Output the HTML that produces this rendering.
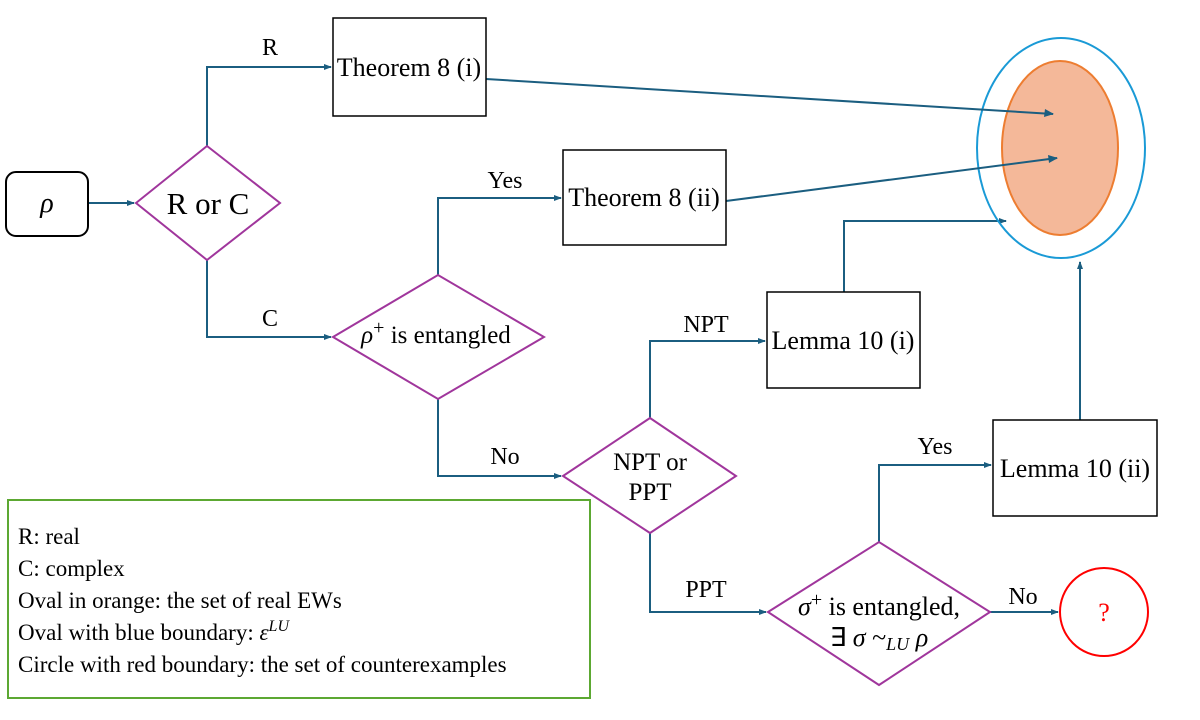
<!DOCTYPE html>
<html><head><meta charset="utf-8"><style>body{margin:0;background:#fff}svg{display:block}</style></head><body>
<svg width="1200" height="720" viewBox="0 0 1200 720" xmlns="http://www.w3.org/2000/svg" font-family="'Liberation Serif', serif">
<defs><marker id="a" markerWidth="8" markerHeight="8" refX="7" refY="4" orient="auto" markerUnits="userSpaceOnUse"><path d="M0,1 L8,4 L0,7 Z" fill="#1b5e80"/></marker></defs>
<g fill="none" stroke="#1b5e80" stroke-width="2">
<path d="M88,203 H134" marker-end="url(#a)"/>
<path d="M207,146 V67 H331" marker-end="url(#a)"/>
<path d="M207,260 V337 H331" marker-end="url(#a)"/>
<path d="M438,275 V198 H561" marker-end="url(#a)"/>
<path d="M438,399 V476 H561" marker-end="url(#a)"/>
<path d="M650,418 V341 H765" marker-end="url(#a)"/>
<path d="M650,533 V612 H766" marker-end="url(#a)"/>
<path d="M879,542 V465 H991" marker-end="url(#a)"/>
<path d="M990,612 H1058" marker-end="url(#a)"/>
<path d="M844,292 V221 H1006" marker-end="url(#a)"/>
<path d="M1080,420 V262" marker-end="url(#a)"/>
</g>
<ellipse cx="1061" cy="148" rx="84" ry="110" fill="none" stroke="#1a9ad6" stroke-width="2"/>
<ellipse cx="1060" cy="148" rx="58" ry="87" fill="#f4b899" stroke="#ed7d31" stroke-width="2"/>
<path d="M486,79 L1053,114 M726,201 L1057,158" fill="none" stroke="#1b5e80" stroke-width="2"/>
<path d="M1045,109 L1054,114 L1044,117 Z M1048,155 L1058,158 L1049,163 Z" fill="#1b5e80"/>
<rect x="6" y="172" width="82" height="64" rx="10" fill="#fff" stroke="#000" stroke-width="2"/>
<g fill="#fff" stroke="#000" stroke-width="1.5">
<rect x="333" y="18" width="153" height="98"/>
<rect x="563" y="150" width="163" height="95"/>
<rect x="767" y="292" width="153" height="96"/>
<rect x="993" y="420" width="164" height="96"/>
</g>
<g fill="#fff" stroke="#a0369c" stroke-width="2">
<path d="M136,203 L207,146 L280,203 L207,260 Z"/>
<path d="M333,337 L438,275 L544,337 L438,399 Z"/>
<path d="M563,476 L650,418 L736,476 L650,533 Z"/>
<path d="M768,612 L879,542 L990,612 L879,685 Z"/>
</g>
<circle cx="1104" cy="612" r="44" fill="#fff" stroke="#f00" stroke-width="2"/>
<rect x="8" y="500" width="582" height="198" fill="#fff" stroke="#5ca832" stroke-width="2"/>
<g font-size="24" fill="#000">
<text x="47" y="212" text-anchor="middle" font-style="italic" font-size="28">ρ</text>
<text x="208" y="214" text-anchor="middle" font-size="31">R or C</text>
<text x="270" y="55" text-anchor="middle">R</text>
<text x="270" y="326" text-anchor="middle">C</text>
<g font-size="26">
<text x="409" y="76" text-anchor="middle">Theorem 8 (i)</text>
<text x="644" y="206" text-anchor="middle">Theorem 8 (ii)</text>
<text x="843" y="349" text-anchor="middle">Lemma 10 (i)</text>
<text x="1075" y="477" text-anchor="middle">Lemma 10 (ii)</text>
</g>
<text x="505" y="188" text-anchor="middle">Yes</text>
<text x="505" y="464" text-anchor="middle">No</text>
<text x="706" y="332" text-anchor="middle">NPT</text>
<text x="706" y="597" text-anchor="middle">PPT</text>
<text x="935" y="454" text-anchor="middle">Yes</text>
<text x="1023" y="604" text-anchor="middle">No</text>
<text x="436" y="343" text-anchor="middle" font-size="25"><tspan font-style="italic">ρ</tspan><tspan dy="-9" font-size="20">+</tspan><tspan dy="9"> is entangled</tspan></text>
<text x="650" y="470" text-anchor="middle" font-size="25">NPT or</text>
<text x="650" y="500" text-anchor="middle" font-size="25">PPT</text>
<text x="879" y="615" text-anchor="middle" font-size="26"><tspan font-style="italic">σ</tspan><tspan dy="-9" font-size="20">+</tspan><tspan dy="9"> is entangled,</tspan></text>
<text x="879" y="646" text-anchor="middle" font-size="26">∃ <tspan font-style="italic">σ</tspan> ~<tspan font-style="italic" font-size="18" dy="4">LU</tspan><tspan dy="-4" font-style="italic"> ρ</tspan></text>
<text x="1104" y="621" text-anchor="middle" fill="#f00" font-size="26">?</text>
<g font-size="23">
<text x="18" y="544">R: real</text>
<text x="18" y="576">C: complex</text>
<text x="18" y="608">Oval in orange: the set of real EWs</text>
<text x="18" y="640">Oval with blue boundary: <tspan font-style="italic">ε</tspan><tspan font-style="italic" font-size="16" dy="-9">LU</tspan></text>
<text x="18" y="672">Circle with red boundary: the set of counterexamples</text>
</g>
</g>
</svg>
</body></html>
